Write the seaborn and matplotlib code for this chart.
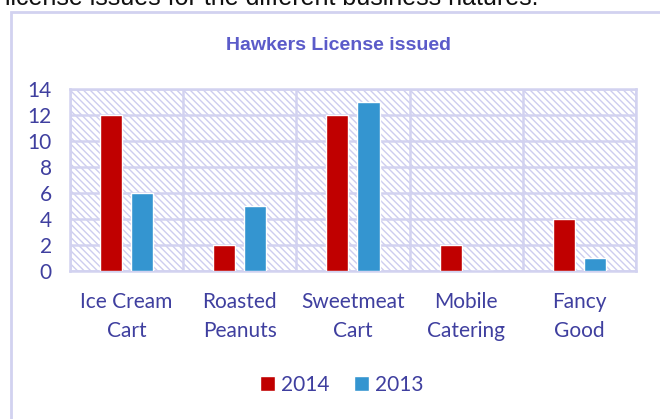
import pandas as pd
import seaborn as sns
import matplotlib.pyplot as plt
from matplotlib.patches import Rectangle, Patch

# data
categories = ['Ice Cream\nCart', 'Roasted\nPeanuts', 'Sweetmeat\nCart', 'Mobile\nCatering', 'Fancy\nGood']
licenses_2014 = [12, 2, 12, 2, 4]
licenses_2013 = [6, 5, 13, 0, 1]
years = ['2014', '2013']
yticks = [0, 2, 4, 6, 8, 10, 12, 14]

df = pd.DataFrame({
    'nature': categories * 2,
    'count': licenses_2014 + licenses_2013,
    'year': [years[0]] * len(categories) + [years[1]] * len(categories),
})

sns.set_style('white')
plt.rcParams['font.family'] = ['Lato', 'DejaVu Sans']
plt.rcParams['hatch.linewidth'] = 1.0

red = '#C00000'
blue = '#3495D0'
lav = '#D2D2F0'
txt = '#3F3F9F'

fig = plt.figure(figsize=(6.6, 4.19), dpi=100)
ax = fig.add_axes([0.106, 0.3532, 0.8576, 0.4344])

# hatched plot background
ax.add_patch(Rectangle((0, 0), 1, 1, transform=ax.transAxes, facecolor='white',
                       edgecolor='#CDCDEF', hatch='\\\\\\\\\\', linewidth=0, zorder=0))

sns.barplot(data=df, x='nature', y='count', hue='year', palette=[red, blue],
            width=0.55, gap=0.29, ax=ax, legend=False, zorder=3, saturation=1)

ax.set_xlim(-0.5, 4.5)
ax.set_ylim(0, 14)
ax.set_yticks(yticks)
ax.set_xticks(range(len(categories)))
ax.set_xticks([i - 0.5 for i in range(len(categories) + 1)], minor=True)
ax.grid(axis='y', color=lav, linewidth=1.8, zorder=1)
ax.grid(axis='x', which='minor', color=lav, linewidth=1.8, zorder=1)
ax.set_axisbelow(True)
for s in ax.spines.values():
    s.set_color(lav)
    s.set_linewidth(1.8)
ax.tick_params(axis='both', which='both', length=0)
ax.tick_params(axis='y', pad=13, labelsize=15, labelcolor=txt)
ax.tick_params(axis='x', pad=15, labelsize=15, labelcolor=txt)
for lbl in ax.get_xticklabels():
    lbl.set_linespacing(1.6)
ax.set_xlabel('')
ax.set_ylabel('')

# outer chart frame and surrounding text
fig.add_artist(Rectangle((11 / 660, -0.1), 1.2, 1 - 12 / 419 + 0.1, transform=fig.transFigure,
                         facecolor='none', edgecolor=lav, linewidth=2))
fig.text(5 / 660, 1 - 5 / 419, 'license issues for the different business natures.',
         fontsize=18, color='#111111', va='baseline', ha='left', family=['Liberation Sans', 'DejaVu Sans'])
fig.text(338 / 660, 1 - 45 / 419, 'Hawkers License issued', ha='center', va='center',
         fontsize=14, fontweight='bold', color='#5B5BC9', family=['Liberation Sans', 'DejaVu Sans'])

handles = [Patch(facecolor=red, label=years[0]), Patch(facecolor=blue, label=years[1])]
fig.legend(handles=handles, loc='center', bbox_to_anchor=(342 / 660, 1 - 385 / 419), ncol=2,
           frameon=False, handlelength=0.7, handleheight=0.7, handletextpad=0.3,
           columnspacing=1.2, labelcolor=txt, prop={'size': 15})

fig.savefig('out.png', dpi=100)
